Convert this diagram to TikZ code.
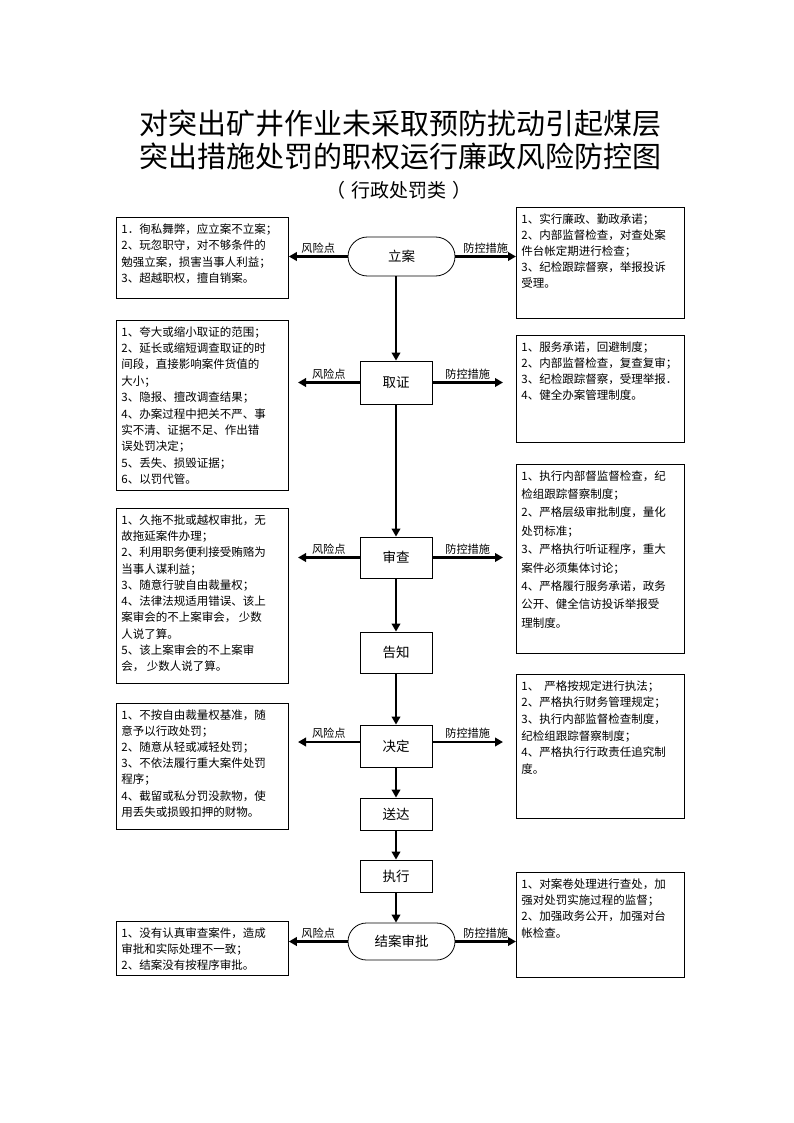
\documentclass[tikz,border=0pt]{standalone}
\usepackage{fontspec}
\setmainfont{Noto Sans CJK SC}
\usetikzlibrary{arrows.meta,shapes.misc}
\newcommand\tbx[4]{\parbox[t][#1pt][t]{#2pt}{\fontsize{11.5}{#3pt}\selectfont\raggedright #4}}
\begin{document}
\begin{tikzpicture}[x=1pt,y=-1pt,
  txtbox/.style={draw,line width=0.8pt,inner xsep=5pt,inner ysep=6pt,anchor=north west},
  proc/.style={draw,line width=0.8pt,inner sep=0pt,minimum width=72pt,font=\fontsize{13.5}{13.5}\selectfont},
  stad/.style={draw,rounded rectangle,line width=0.8pt,inner sep=0pt,minimum width=107pt,font=\fontsize{13.5}{13.5}\selectfont},
  arr/.style={line width=2.6pt,-{Triangle[length=8pt,width=8.5pt]}},
  lbl/.style={font=\fontsize{11.2}{11.2}\selectfont,inner sep=2pt}]
\fill[white] (0,0) rectangle (794,1123);
\useasboundingbox (0,0) rectangle (794,1123);
% titles
\node (t1) at (400,124) {\fontsize{29}{29}\selectfont 对突出矿井作业未采取预防扰动引起煤层};
\node (t2) at (400,156) {\fontsize{29}{29}\selectfont 突出措施处罚的职权运行廉政风险防控图};
\node (t3) at (399,190) {\fontsize{19}{19}\selectfont （\hspace{6pt}行政处罚类\hspace{6pt}）};
% process nodes
\node[stad,minimum height=39pt] (lian) at (401.5,256.5) {立案};
\node[proc,minimum height=43pt] (quzheng) at (396,382.5) {取证};
\node[proc,minimum height=41pt] (shencha) at (396,557.5) {审查};
\node[proc,minimum height=41pt] (gaozhi) at (396,652.5) {告知};
\node[proc,minimum height=42pt] (jueding) at (396,746) {决定};
\node[proc,minimum height=32pt] (songda) at (396,814) {送达};
\node[proc,minimum height=32pt] (zhixing) at (396,876) {执行};
\node[stad,minimum height=37pt] (jiean) at (401.5,941.5) {结案审批};
% left risk boxes
\node[txtbox] (L1) at (116,217) {\tbx{69}{162}{16.5}{1．徇私舞弊，应立案不立案；\\2、玩忽职守，对不够条件的\\勉强立案，损害当事人利益；\\3、超越职权，擅自销案。}};
\node[txtbox] (L2) at (116,320) {\tbx{158}{162}{16.4}{1、夸大或缩小取证的范围；\\2、延长或缩短调查取证的时\\间段，直接影响案件货值的\\大小；\\3、隐报、擅改调查结果；\\4、办案过程中把关不严、事\\实不清、证据不足、作出错\\误处罚决定；\\5、丢失、损毁证据；\\6、以罚代管。}};
\node[txtbox] (L3) at (116,508) {\tbx{163}{162}{16.3}{1、久拖不批或越权审批，无\\故拖延案件办理；\\2、利用职务便利接受贿赂为\\当事人谋利益；\\3、随意行驶自由裁量权；\\4、法律法规适用错误、该上\\案审会的不上案审会， 少数\\人说了算。\\5、该上案审会的不上案审\\会， 少数人说了算。}};
\node[txtbox] (L4) at (116,703) {\tbx{114}{162}{16.2}{1、不按自由裁量权基准，随\\意予以行政处罚；\\2、随意从轻或减轻处罚；\\3、不依法履行重大案件处罚\\程序；\\4、截留或私分罚没款物，使\\用丢失或损毁扣押的财物。}};
\node[txtbox] (L5) at (116,921) {\tbx{42}{162}{16.3}{1、没有认真审查案件，造成\\审批和实际处理不一致；\\2、结案没有按程序审批。}};
% right control boxes
\node[txtbox] (R1) at (516,207) {\tbx{99}{158}{16.2}{1、实行廉政、勤政承诺；\\2、内部监督检查，对查处案\\件台帐定期进行检查；\\3、纪检跟踪督察，举报投诉\\受理。}};
\node[txtbox] (R2) at (516,335) {\tbx{95}{158}{16}{1、服务承诺，回避制度；\\2、内部监督检查，复查复审；\\3、纪检跟踪督察，受理举报．\\4、健全办案管理制度。}};
\node[txtbox] (R3) at (516,464) {\tbx{177}{158}{18.4}{1、执行内部督监督检查，纪\\检组跟踪督察制度；\\2、严格层级审批制度，量化\\处罚标准；\\3、严格执行听证程序，重大\\案件必须集体讨论；\\4、严格履行服务承诺，政务\\公开、健全信访投诉举报受\\理制度。}};
\node[txtbox] (R4) at (516,674) {\tbx{132}{158}{16.7}{1、\ \ 严格按规定进行执法；\\2、严格执行财务管理规定；\\3、执行内部监督检查制度，\\纪检组跟踪督察制度；\\4、严格执行行政责任追究制\\度。}};
\node[txtbox] (R5) at (516,872) {\tbx{93}{158}{16.3}{1、对案卷处理进行查处，加\\强对处罚实施过程的监督；\\2、加强政务公开，加强对台\\帐检查。}};
% vertical flow arrows
\draw[arr] (quzheng.north |- lian.south) -- (quzheng.north);
\draw[arr] (quzheng.south) -- (shencha.north);
\draw[arr] (shencha.south) -- (gaozhi.north);
\draw[arr] (gaozhi.south) -- (jueding.north);
\draw[arr] (jueding.south) -- (songda.north);
\draw[arr] (songda.south) -- (zhixing.north);
\draw[arr] (zhixing.south) -- (zhixing.south |- jiean.north);
% free ends
\coordinate (qL) at (298,382.5);
\coordinate (qR) at (503,382.5);
\coordinate (sL) at (298,557.5);
\coordinate (sR) at (503,557.5);
\coordinate (jL) at (298,742);
\coordinate (jR) at (503,742);
% horizontal arrows
\draw[arr] (lian.west) -- (lian.west -| L1.east) node[midway,above,lbl] {风险点};
\draw[arr] (lian.east) -- (lian.east -| R1.west) node[midway,above,lbl] {防控措施};
\draw[arr] (quzheng.west) -- (qL) node[midway,above,lbl] {风险点};
\draw[arr] (quzheng.east) -- (qR) node[midway,above,lbl] {防控措施};
\draw[arr] (shencha.west) -- (sL) node[midway,above,lbl] {风险点};
\draw[arr] (shencha.east) -- (sR) node[midway,above,lbl] {防控措施};
\draw[arr] (jueding.west |- jL) -- (jL) node[midway,above,lbl] {风险点};
\draw[arr] (jueding.east |- jR) -- (jR) node[midway,above,lbl] {防控措施};
\draw[arr] (jiean.west) -- (jiean.west -| L5.east) node[midway,above,lbl] {风险点};
\draw[arr] (jiean.east) -- (jiean.east -| R5.west) node[midway,above,lbl] {防控措施};
\end{tikzpicture}
\end{document}
